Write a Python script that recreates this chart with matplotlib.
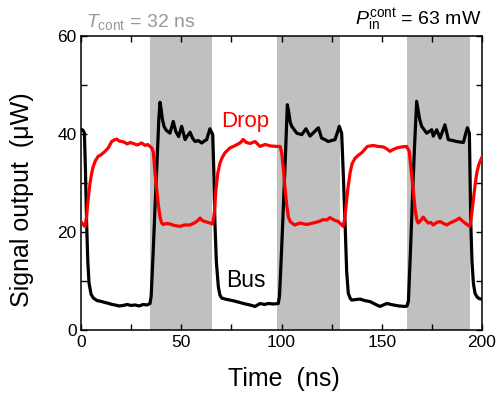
import matplotlib
matplotlib.use("Agg")
import matplotlib.pyplot as plt
from matplotlib.ticker import MultipleLocator

plt.rcParams['font.family'] = ['Liberation Sans', 'DejaVu Sans']
plt.rcParams['mathtext.fontset'] = 'custom'
plt.rcParams['mathtext.rm'] = 'Liberation Sans'
plt.rcParams['mathtext.it'] = 'Liberation Sans:italic'

# ---- data ----
control_windows = [(34.4, 65.3), (97.6, 129.2), (162.7, 194.0)]

# Bus port output: (time ns, signal uW)
bus_points = [
    (0, 41.0), (1.0, 40.8), (1.7, 40.2), (2.2, 33.0), (2.8, 22.0), (3.4, 14.0),
    (4.0, 9.7), (5.0, 7.4), (6.2, 6.6), (8.0, 6.1), (10.3, 5.9), (12.0, 5.7),
    (14.0, 5.5), (15.5, 5.3), (17.0, 5.2), (19.0, 5.0), (21.0, 5.1), (23.0, 5.3),
    (25.0, 5.1), (27.0, 5.2), (29.0, 5.0), (31.0, 5.3), (33.0, 5.2), (34.4, 5.5),
    (35.0, 7.0), (36.0, 16.0), (37.0, 26.0), (38.0, 35.0), (38.8, 43.0), (39.4, 46.5),
    (40.0, 45.0), (40.6, 43.0), (41.5, 41.5), (42.5, 40.8), (44.4, 40.2), (46.0, 42.6),
    (47.3, 40.5), (48.7, 39.5), (50.2, 41.6), (51.9, 38.9), (53.0, 39.6), (54.4, 40.4),
    (55.6, 39.2), (56.9, 38.5), (58.5, 38.7), (60.2, 38.2), (61.5, 38.6), (62.7, 38.9),
    (63.5, 40.0), (64.3, 41.1), (65.7, 39.9), (66.2, 33.0), (66.8, 21.9), (67.5, 14.0),
    (68.5, 8.9), (69.3, 7.2), (70.2, 6.6), (72.0, 6.4), (74.3, 6.2), (76.5, 6.0),
    (79.3, 5.7), (82.0, 5.4), (84.3, 5.2), (86.8, 4.9), (89.3, 5.5), (91.5, 5.3),
    (93.4, 5.5), (96.0, 5.4), (98.4, 5.5), (99.0, 7.0), (100.0, 16.0), (101.0, 26.0),
    (102.0, 36.0), (102.9, 46.0), (103.6, 44.5), (104.3, 42.5), (105.1, 41.6),
    (107.6, 40.2), (110.1, 39.9), (112.2, 41.1), (114.2, 39.6), (116.7, 40.6),
    (118.4, 41.3), (120.0, 39.2), (121.6, 38.9), (123.3, 38.5), (125.0, 38.7),
    (126.7, 38.9), (128.0, 40.5), (128.8, 41.6), (130.0, 40.2), (130.8, 32.0),
    (131.7, 21.9), (132.5, 12.0), (133.3, 7.6), (134.2, 6.6), (135.0, 6.2),
    (137.0, 6.3), (139.2, 6.4), (141.5, 6.1), (144.1, 5.9), (146.5, 5.4),
    (149.1, 4.9), (150.8, 5.2), (152.5, 5.5), (155.8, 5.2), (158.5, 5.0),
    (161.6, 4.9), (162.6, 5.0), (163.3, 6.0), (164.3, 16.0), (165.3, 27.0),
    (166.4, 38.0), (167.4, 46.7), (168.1, 45.0), (168.9, 43.0), (169.9, 41.6),
    (172.4, 40.2), (174.9, 40.9), (175.7, 39.6), (177.4, 40.9), (179.1, 39.2),
    (181.5, 41.9), (183.2, 38.9), (185.3, 38.7), (187.4, 38.5), (189.0, 38.4),
    (190.7, 38.3), (191.8, 40.0), (192.7, 41.3), (193.7, 40.2), (194.0, 32.0),
    (194.4, 21.9), (195.0, 14.0), (195.7, 9.6), (196.5, 7.6), (197.4, 6.9),
    (198.5, 6.5), (199.9, 6.4),
]

# Drop port output: (time ns, signal uW)
drop_points = [
    (0, 22.2), (1.0, 21.6), (2.0, 21.2), (2.8, 23.2), (3.5, 26.5), (4.5, 30.0),
    (5.3, 32.0), (6.1, 33.4), (7.2, 34.6), (8.6, 35.5), (10.0, 35.8), (12.0, 36.5),
    (13.6, 37.2), (15.3, 38.5), (16.5, 38.8), (17.8, 39.0), (19.0, 38.6), (20.5, 38.5),
    (21.9, 38.3), (23.0, 38.0), (24.5, 38.3), (26.1, 38.1), (28.0, 37.8), (30.3, 38.2),
    (32.0, 37.7), (33.2, 37.9), (34.4, 37.5), (35.3, 37.2), (36.1, 36.3), (36.9, 32.1),
    (37.8, 28.5), (38.6, 25.5), (39.4, 23.2), (40.2, 21.9), (41.0, 21.6), (42.5, 21.8),
    (44.4, 21.7), (46.5, 21.4), (49.4, 21.2), (51.5, 21.5), (54.4, 21.5), (56.5, 21.9),
    (58.0, 22.3), (59.4, 22.9), (60.5, 22.4), (61.8, 22.2), (63.5, 22.0), (65.7, 21.7),
    (66.5, 24.0), (67.3, 28.7), (68.2, 32.0), (69.3, 34.1), (70.5, 35.3), (71.8, 36.2),
    (74.3, 37.2), (76.5, 37.6), (79.3, 38.2), (80.9, 38.9), (82.5, 38.3), (84.3, 38.1),
    (86.8, 38.5), (89.3, 37.5), (91.8, 37.9), (94.5, 37.6), (97.6, 37.5), (99.3, 37.5),
    (100.1, 36.2), (100.9, 33.0), (101.7, 29.3), (102.6, 25.5), (103.4, 23.2),
    (104.2, 22.3), (105.1, 21.9), (106.7, 21.5), (109.2, 21.9), (112.5, 21.6),
    (115.9, 21.9), (118.5, 22.2), (120.8, 22.6), (122.5, 22.5), (124.2, 23.0),
    (126.2, 22.5), (128.3, 22.2), (130.8, 21.2), (131.6, 23.0), (132.5, 26.6),
    (133.3, 29.5), (134.2, 32.1), (135.2, 34.0), (136.7, 35.1), (138.3, 35.7),
    (140.0, 36.2), (142.8, 37.5), (145.8, 37.7), (148.0, 37.5), (150.8, 37.4),
    (152.5, 37.0), (154.1, 36.5), (155.8, 36.9), (157.5, 37.2), (160.0, 37.4),
    (162.4, 37.5), (163.7, 36.5), (164.7, 32.5), (165.7, 28.7), (166.7, 24.5),
    (167.5, 22.5), (168.2, 21.9), (169.4, 22.4), (170.7, 23.1), (172.0, 22.4),
    (173.2, 21.9), (174.5, 22.0), (175.7, 21.5), (177.4, 22.0), (179.1, 22.2),
    (180.8, 21.8), (182.4, 21.5), (184.0, 21.9), (185.7, 22.2), (187.2, 22.5),
    (188.7, 22.9), (190.0, 22.4), (191.5, 21.9), (192.8, 21.5), (194.0, 21.2),
    (194.8, 23.5), (195.7, 26.6), (196.5, 29.5), (197.4, 32.1), (198.4, 33.8),
    (199.4, 34.8), (200.0, 35.3),
]

bus_time = [p[0] for p in bus_points]
bus_signal = [p[1] for p in bus_points]
drop_time = [p[0] for p in drop_points]
drop_signal = [p[1] for p in drop_points]

x_ticks = [0, 50, 100, 150, 200]
y_ticks = [0, 20, 40, 60]

fig = plt.figure(figsize=(4.96, 3.95), dpi=100)
ax = fig.add_axes([0.1633, 0.1633, 0.8085, 0.7456])

for a, b in control_windows:
    ax.axvspan(a, b, color='#c0c0c0', lw=0, zorder=0)

ax.plot(bus_time, bus_signal, color='black', lw=2.3, zorder=3,
        solid_joinstyle='round')
ax.plot(drop_time, drop_signal, color='#ff0000', lw=2.3, zorder=4,
        solid_joinstyle='round')

ax.text(70.1, 41.4, 'Drop', color='#ff0000', fontsize=16)
ax.text(72.2, 8.9, 'Bus', color='black', fontsize=16.5)

ax.set_xlim(0, 200)
ax.set_ylim(0, 60)
ax.set_xticks(x_ticks)
ax.set_yticks(y_ticks)
ax.xaxis.set_minor_locator(MultipleLocator(25))
ax.yaxis.set_minor_locator(MultipleLocator(10))
ax.tick_params(which='both', direction='in', top=True, right=True,
               length=4, width=1, labelsize=12.5, pad=3)
for s in ax.spines.values():
    s.set_linewidth(1.1)

fig.text(283.5 / 496, 1 - 386 / 395, 'Time  (ns)', fontsize=18,
         ha='center', va='baseline')
fig.text(22.5 / 496, 1 - 200 / 395, 'Signal output  (\u03bcW)', fontsize=18,
         ha='center', va='center', rotation=90)

fig.text(86 / 496, 1 - 27 / 395, r'$T_{\rm cont}$ = 32 ns', color='#999999',
         fontsize=14, ha='left', va='baseline')
fig.text(481 / 496, 1 - 25 / 395, r'$P_{\rm in}^{\rm cont}$ = 63 mW', color='black',
         fontsize=14, ha='right', va='baseline')

fig.savefig('out.png', dpi=100)
